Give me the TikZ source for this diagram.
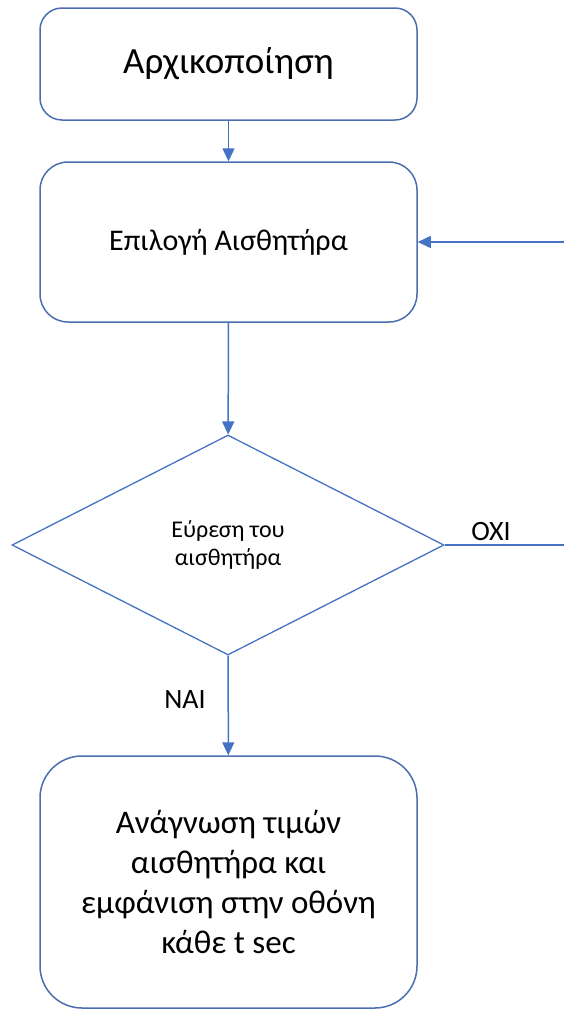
\documentclass[tikz,border=0pt]{standalone}
\usepackage{fontspec}
\setmainfont{Carlito}
\usetikzlibrary{arrows.meta,shapes.geometric}
\definecolor{lineblue}{HTML}{4472C4}
\definecolor{boxblue}{HTML}{4A6EB0}
\tikzset{
  flowbox/.style={draw=boxblue, line width=1.5pt, rectangle, minimum width=377pt, inner sep=0pt, align=center, text=black},
  decbox/.style={draw=lineblue, line width=1.3pt, diamond, minimum width=432pt, minimum height=220pt, inner sep=0pt, align=center, text=black},
  conn/.style={draw=lineblue, line width=1.5pt, -{Triangle[length=13pt,width=12pt]}},
  lbl/.style={text=black, inner sep=0pt}
}
\begin{document}
\begin{tikzpicture}[x=1pt,y=-1pt]
\useasboundingbox (0,0) rectangle (564,1010);
\node[flowbox, minimum height=112pt, rounded corners=22pt, font=\fontsize{37}{44}\selectfont] (init) at (228.5,64) {Αρχικοποίηση};
\node[flowbox, minimum height=160pt, rounded corners=28pt, font=\fontsize{30}{36}\selectfont] (sel) at (228.5,242) {Επιλογή Αισθητήρα};
\node[decbox, font=\fontsize{24}{28}\selectfont] (find) at (228,545) {Εύρεση του\\αισθητήρα};
\node[flowbox, minimum height=252pt, rounded corners=42pt, font=\fontsize{33}{40}\selectfont] (read) at (228.5,882) {Ανάγνωση τιμών\\αισθητήρα και\\εμφάνιση στην οθόνη\\κάθε t sec};
\coordinate (ret) at (572,545);
\draw[conn] (init) -- (sel);
\draw[conn] (sel) -- (find);
\draw[conn] (find) -- (read);
\draw[conn] (find.east) -- (ret) |- (sel.east);
\node[lbl, font=\fontsize{28}{33}\selectfont] (no) at (491,532) {ΟΧΙ};
\node[lbl, font=\fontsize{28}{33}\selectfont] (yes) at (185,700) {ΝΑΙ};
\end{tikzpicture}
\end{document}
